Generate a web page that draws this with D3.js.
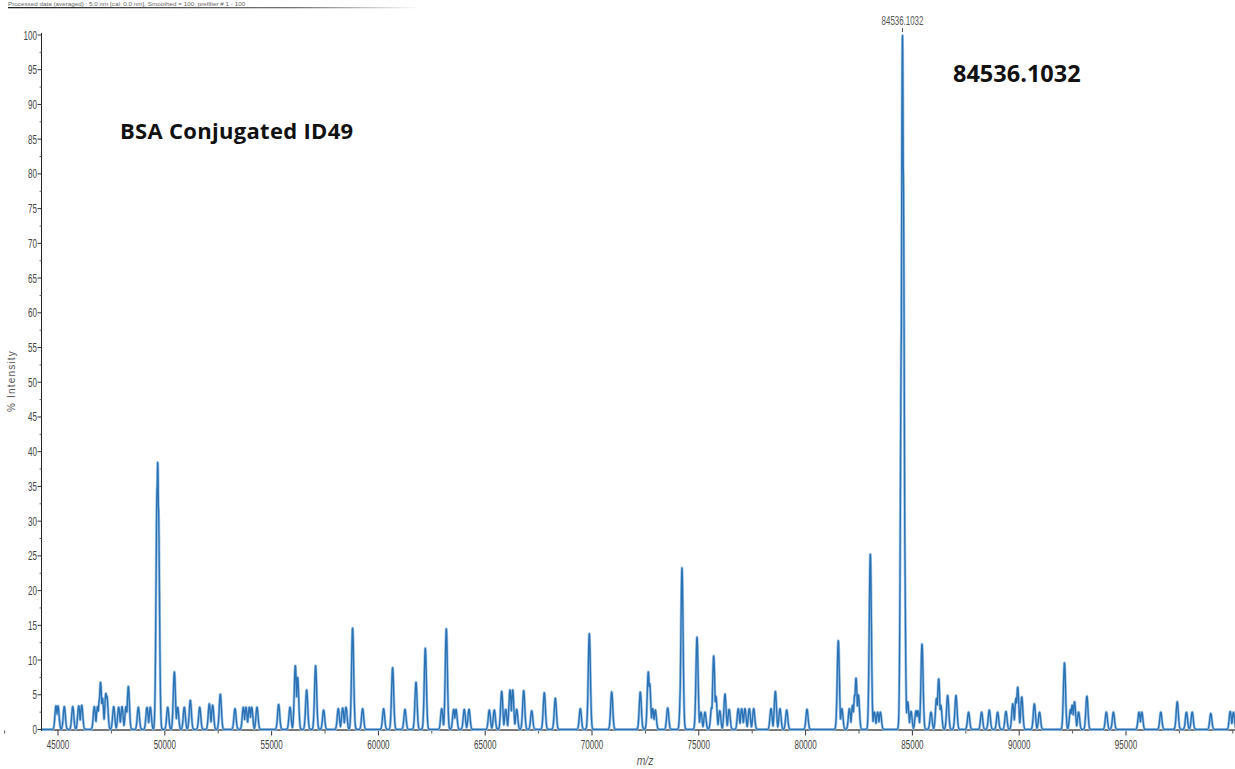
<!DOCTYPE html>
<html>
<head>
<meta charset="utf-8">
<script src="https://cdn.jsdelivr.net/npm/d3@7"></script>
<style>
  html, body { margin: 0; padding: 0; background: #fff; }
  svg { display: block; }
</style>
</head>
<body>
<svg id="chart" width="1235" height="769"></svg>
<script>
// Deconvoluted mass spectrum: peak centroids (m/z) and their relative intensities (%)
const peakMz = [
  44906, 45000, 45295, 45690, 45970, 46110,
  46700, 46850, 46940, 46990, 47080, 47240, 47290,
  47607, 47840, 47996, 48183, 48293, 48760, 49166, 49321,
  49640, 49668, 49700,
  50136, 50447, 50600, 50913, 51194, 51633, 52084, 52240, 52598,
  53286, 53675, 53801, 53956, 54068, 54316,
  55329, 55861, 56110, 56218, 56640, 57060, 57434,
  58122, 58326, 58483, 58792, 59260, 60243, 60665, 61245, 61760, 62196,
  62964, 63179, 63525, 63633, 64021, 64241,
  65192, 65426, 65772, 65960, 66160, 66287, 66474, 66802, 67177, 67767,
  68282, 69453, 69874, 70922,
  72261, 72636, 72700, 72840, 72963, 73544, 74180, 74213, 74916, 75100,
  75290, 75600, 75697, 75800, 75980, 76226, 76420, 76848, 77008, 77162,
  77364, 77570,
  78380, 78583, 78800, 79115, 80066, 81531, 81700, 82050, 82200, 82300,
  82360, 82470, 83030, 83220, 83370, 83500,
  84490, 84536, 84570, 84610, 84780, 84935, 85170, 85260, 85450, 85870,
  86130, 86230, 86330, 86650, 87040, 87630, 88240, 88600, 88990, 89380,
  89700, 89850, 89930, 90120, 90710, 90950, 92120, 92400, 92480, 92590,
  92780, 93170, 94080, 94410, 95610, 95740, 96630, 97400, 97830, 98100,
  98970, 99880, 100030
];
const peakIntensity = [
  3.4, 3.4, 3.3, 3.3, 3.4, 3.5,
  3.3, 3.3, 4.4, 6.8, 4.5, 5.2, 4.8,
  3.3, 3.2, 3.3, 3.3, 6.2, 3.2, 3.2, 3.2,
  35, 38.5, 32,
  3.2, 8.3, 3.2, 3.2, 4.2, 3.2, 3.7, 3.5, 5.1,
  3.0, 3.2, 3.2, 3.2, 3.2, 3.2,
  3.6, 3.2, 9.2, 7.5, 5.7, 9.2, 2.8,
  3.0, 3.1, 3.2, 14.6, 3.0, 3.0, 8.9, 2.9, 6.8, 11.7,
  3.0, 14.5, 2.9, 2.9, 2.9, 2.9,
  2.8, 2.8, 5.5, 2.9, 5.7, 5.7, 2.9, 5.6, 2.7, 5.3,
  4.5, 3.0, 13.8, 5.4,
  5.4, 8.3, 6.6, 3.0, 2.8, 3.1, 10, 23.3, 13.3, 2.5,
  2.5, 3.2, 10.6, 4.8, 2.7, 5.1, 2.9, 3.0, 3.0, 3.0,
  3.0, 3.0,
  3.0, 5.5, 3.0, 2.8, 2.9, 12.8, 3.0, 3.0, 3.5, 5.0,
  7.4, 5.0, 25.3, 2.5, 2.5, 2.5,
  58, 100, 81, 35, 4.0, 2.6, 2.7, 2.7, 12.3, 2.5,
  4.5, 7.3, 3.5, 4.9, 4.9, 2.5, 2.5, 2.8, 2.5, 2.6,
  3.7, 4.5, 6.1, 4.7, 3.7, 2.5, 9.6, 2.9, 3.5, 4.0,
  2.5, 4.8, 2.5, 2.5, 2.5, 2.5, 2.5, 4.0, 2.5, 2.5,
  2.3, 2.6, 2.5
];

const xTicks = [45000, 50000, 55000, 60000, 65000, 70000, 75000, 80000, 85000, 90000, 95000];
const yTicks = [0, 5, 10, 15, 20, 25, 30, 35, 40, 45, 50, 55, 60, 65, 70, 75, 80, 85, 90, 95, 100];
const labelledPeak = { mz: 84536.1032, text: "84536.1032" };
const sampleTitle = "BSA Conjugated ID49";
const headerText = "Processed data (averaged) : 5.0 nm [cal: 0.0 nm], Smoothed = 100, prefilter # 1 - 100";

const svg = d3.select("#chart");
const sans = "'Liberation Sans', Arial, sans-serif";
const squeeze = 0.62; // condensed instrument-software lettering

const x = d3.scaleLinear().domain([44250, 100150]).range([42, 1236]);
const y = d3.scaleLinear().domain([0, 100]).range([729.5, 35]);

// condensed text helper
function narrowText(g, tx, ty, str, size, anchor, fill, sx) {
  return g.append("text")
    .attr("transform", `translate(${tx},${ty}) scale(${sx || squeeze},1)`)
    .attr("text-anchor", anchor)
    .attr("font-family", sans).attr("font-size", size).attr("fill", fill)
    .text(str);
}

// header line of the acquisition software
const grad = svg.append("defs").append("linearGradient").attr("id", "fade")
  .attr("x1", "0%").attr("x2", "100%");
grad.append("stop").attr("offset", "0%").attr("stop-color", "#222");
grad.append("stop").attr("offset", "70%").attr("stop-color", "#777");
grad.append("stop").attr("offset", "100%").attr("stop-color", "#fff");
narrowText(svg, 8, 6, headerText, 6, "start", "#666", 1.05);
svg.append("rect").attr("x", 8).attr("y", 7).attr("width", 412).attr("height", 1.3)
  .attr("fill", "url(#fade)");

// Profile: each peak drawn as a narrow gaussian, envelope = max over peaks
const sigma = 50;
const step = 8;
const profile = [];
for (let m = x.domain()[0]; m <= x.domain()[1]; m += step) {
  let v = 0;
  for (let i = 0; i < peakMz.length; i++) {
    const d = m - peakMz[i];
    if (Math.abs(d) > 5 * sigma) continue;
    const g = peakIntensity[i] * Math.exp(-0.5 * (d / sigma) * (d / sigma));
    if (g > v) v = g;
  }
  profile.push([m, v]);
}

// x axis
const xAxisG = svg.append("g");
xAxisG.append("line").attr("x1", 41).attr("x2", 1235)
  .attr("y1", y(0) + 0.5).attr("y2", y(0) + 0.5)
  .attr("stroke", "#7a7a7a").attr("stroke-width", 2.2);
const xMinor = d3.range(42500, 100001, 2500).filter(v => !xTicks.includes(v));
xAxisG.selectAll("line.minor").data(xMinor).join("line").attr("class", "minor")
  .attr("x1", d => x(d)).attr("x2", d => x(d))
  .attr("y1", y(0) + 1).attr("y2", y(0) + 4).attr("stroke", "#555");
xAxisG.selectAll("line.major").data(xTicks).join("line").attr("class", "major")
  .attr("x1", d => x(d)).attr("x2", d => x(d))
  .attr("y1", y(0) + 1).attr("y2", y(0) + 6).attr("stroke", "#333");
xTicks.forEach(t => narrowText(xAxisG, x(t), 749, String(t), 13, "middle", "#444"));

// y axis
const yAxisG = svg.append("g");
yAxisG.append("line").attr("x1", 41.5).attr("x2", 41.5)
  .attr("y1", y(100) - 2).attr("y2", y(0) + 1).attr("stroke", "#222");
const yMinor = d3.range(2.5, 100, 5);
yAxisG.selectAll("line.minor").data(yMinor).join("line").attr("class", "minor")
  .attr("x1", 39.5).attr("x2", 41.5)
  .attr("y1", d => y(d)).attr("y2", d => y(d)).attr("stroke", "#666");
yAxisG.selectAll("line.major").data(yTicks).join("line").attr("class", "major")
  .attr("x1", 37.5).attr("x2", 41.5)
  .attr("y1", d => y(d)).attr("y2", d => y(d)).attr("stroke", "#333");
yTicks.forEach(t => narrowText(yAxisG, 37, y(t) + 4.5, String(t), 13, "end", "#444"));

svg.append("text")
  .attr("transform", "translate(15,381) rotate(-90)")
  .attr("text-anchor", "middle")
  .attr("font-family", sans).attr("font-size", 10)
  .attr("fill", "#555").attr("letter-spacing", 1.2)
  .text("% Intensity");

svg.append("text")
  .attr("transform", "translate(645,765) scale(0.8,1)")
  .attr("text-anchor", "middle").attr("font-style", "italic")
  .attr("font-family", sans).attr("font-size", 13).attr("fill", "#555")
  .text("m/z");

// spectrum trace
const line = d3.line().x(d => x(d[0])).y(d => y(d[1]));
svg.append("path").datum(profile).attr("d", line)
  .attr("fill", "none").attr("stroke", "#a8cbea").attr("stroke-width", 2.8)
  .attr("stroke-linejoin", "round");
svg.append("path").datum(profile).attr("d", line)
  .attr("fill", "none").attr("stroke", "#2b72b5").attr("stroke-width", 1.4)
  .attr("stroke-linejoin", "round");

// peak annotation
const px = x(labelledPeak.mz);
narrowText(svg, px, 25, labelledPeak.text, 12, "middle", "#555", 0.66);
svg.append("line").attr("x1", px).attr("x2", px).attr("y1", 28).attr("y2", 32)
  .attr("stroke", "#555").attr("stroke-width", 1);

svg.append("text").attr("x", 953).attr("y", 82)
  .attr("font-family", "'Open Sans', sans-serif").attr("font-weight", "bold")
  .attr("font-size", 23.5).attr("fill", "#111")
  .text(labelledPeak.text);

svg.append("text").attr("x", 120).attr("y", 139)
  .attr("font-family", "'Open Sans', sans-serif").attr("font-weight", "bold")
  .attr("font-size", 22).attr("letter-spacing", 0.3).attr("fill", "#111")
  .text(sampleTitle);
</script>
</body>
</html>
